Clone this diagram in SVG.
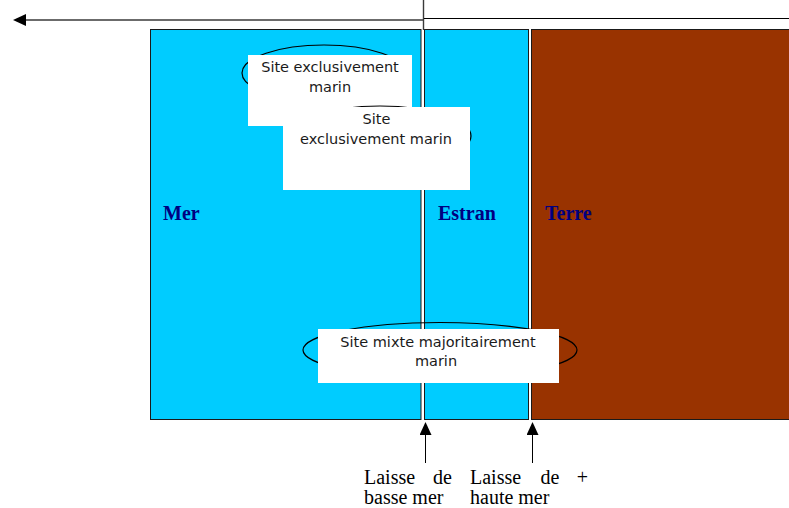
<svg xmlns="http://www.w3.org/2000/svg" width="789" height="508" viewBox="0 0 789 508">
  <defs>
    <marker id="head" viewBox="0 0 13 12" refX="0" refY="6" markerWidth="13" markerHeight="12" markerUnits="userSpaceOnUse" orient="auto">
      <path d="M0,0 L13,6 L0,12 z" fill="#000"/>
    </marker>
  </defs>
  <style>
    .zone { stroke: #1a1a1a; stroke-width: 1; }
    .sea { fill: #00CCFF; }
    .land { fill: #993300; }
    .zlabel { font-family: "Liberation Serif", "Times New Roman", serif; font-weight: bold; font-size: 20px; fill: #000080; }
    .ring { fill: none; stroke: #000; stroke-width: 1.2; }
    .card { fill: #fff; }
    .site { font-family: "DejaVu Sans", Verdana, sans-serif; font-size: 14.5px; fill: #1a1a1a; text-anchor: middle; }
    .caption { font-family: "Liberation Serif", "Times New Roman", serif; font-size: 20px; fill: #000; }
    .wire { stroke: #000; stroke-width: 1; fill: none; }
  </style>

  <rect width="789" height="508" fill="#fff"/>

  <!-- coastal zones -->
  <g id="mer">
    <rect class="zone sea" x="150.5" y="29.5" width="270.5" height="390"/>
    <text class="zlabel" x="163" y="219.5">Mer</text>
  </g>
  <g id="estran">
    <rect class="zone sea" x="424.5" y="29.5" width="104" height="390"/>
    <text class="zlabel" x="438" y="219.5">Estran</text>
  </g>
  <g id="terre">
    <rect class="zone land" x="531.5" y="29.5" width="262" height="390"/>
    <text class="zlabel" x="545" y="219.5">Terre</text>
  </g>

  <!-- site callouts -->
  <g id="site-marin-1">
    <ellipse class="ring" cx="324" cy="73" rx="82" ry="28"/>
    <rect class="card" x="248" y="55" width="164" height="71"/>
    <text class="site" x="330" y="71.5">Site exclusivement</text>
    <text class="site" x="330" y="91.5">marin</text>
  </g>
  <g id="site-marin-2">
    <ellipse class="ring" cx="380" cy="136" rx="91" ry="30"/>
    <rect class="card" x="283" y="107" width="187" height="83"/>
    <text class="site" x="376.5" y="123.5">Site</text>
    <text class="site" x="376" y="143.5">exclusivement marin</text>
  </g>
  <g id="site-mixte">
    <ellipse class="ring" cx="440" cy="350" rx="137" ry="27.5"/>
    <rect class="card" x="318" y="329" width="241" height="54"/>
    <text class="site" x="438" y="346.5">Site mixte majoritairement</text>
    <text class="site" x="436" y="366">marin</text>
  </g>

  <!-- tide line captions -->
  <g id="laisse-basse-mer">
    <text class="caption" x="364" y="483.5">Laisse</text>
    <text class="caption" x="452" y="483.5" text-anchor="end">de</text>
    <text class="caption" x="364" y="503.5">basse mer</text>
  </g>
  <g id="laisse-haute-mer">
    <text class="caption" x="470" y="483.5">Laisse</text>
    <text class="caption" x="559.5" y="483.5" text-anchor="end">de</text>
    <text class="caption" x="588" y="483.5" text-anchor="end">+</text>
    <text class="caption" x="470" y="503.5">haute mer</text>
  </g>

  <!-- connectors -->
  <g id="connectors">
    <line x1="424" y1="20" x2="26" y2="20" stroke="#3a3a3a" stroke-width="1.4" marker-end="url(#head)"/>
    <line x1="423.5" y1="0" x2="423.5" y2="30" stroke="#3a3a3a" stroke-width="1.4"/>
    <line class="wire" x1="424" y1="18.5" x2="789" y2="18.5"/>
    <line class="wire" x1="425.5" y1="463" x2="425.5" y2="435" marker-end="url(#head)"/>
    <line class="wire" x1="532.5" y1="463" x2="532.5" y2="435" marker-end="url(#head)"/>
  </g>
</svg>
